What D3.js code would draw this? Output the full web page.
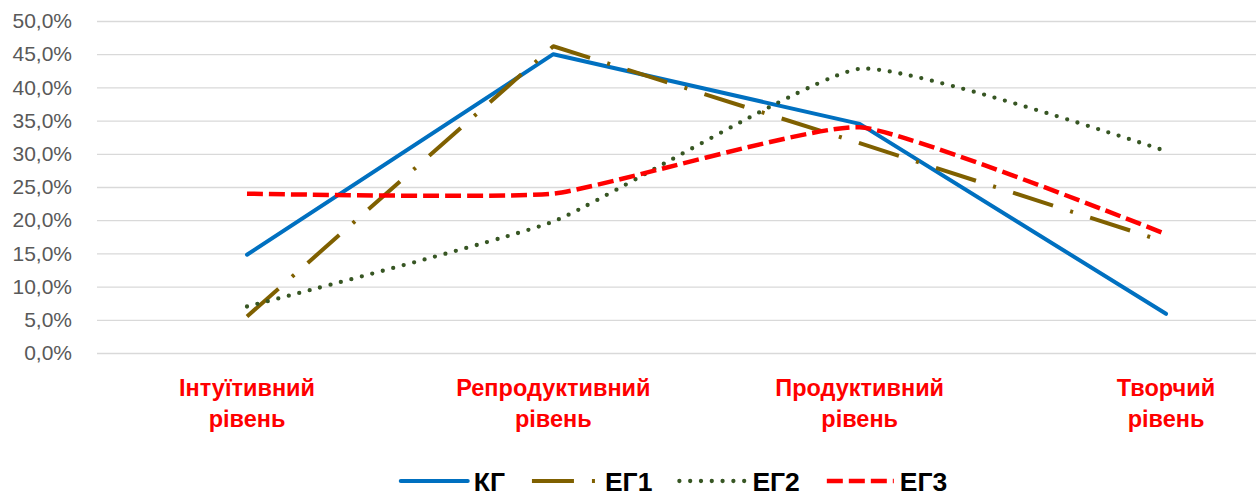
<!doctype html>
<meta charset="utf-8">
<style>
body { margin: 0; background: #fff; }
.tick line { stroke: #d9d9d9; stroke-width: 1.3px; }
.tick text { font-family: "Liberation Sans", Arial, sans-serif; font-size: 21px; fill: #595959; }
.cat { font-family: "Liberation Sans", Arial, sans-serif; font-size: 23.5px; font-weight: bold; fill: #ff0000; }
.leg { font-family: "Liberation Sans", Arial, sans-serif; font-size: 26.5px; font-weight: bold; fill: #000; }
</style>
<html lang="uk">
<body>
<script src="https://d3js.org/d3.v7.min.js"></script>
<script>
// categories and series values (percent)
var categories = ["Інтуїтивний рівень", "Репродуктивний рівень", "Продуктивний рівень", "Творчий рівень"];
var seriesNames = ["КГ", "ЕГ1", "ЕГ2", "ЕГ3"];
var kg  = [14.8, 45.0, 34.5, 5.9];
var eg1 = [5.5, 46.2, 31.6, 16.7];
var eg2 = [7.0, 19.8, 42.8, 30.4];
var eg3 = [24.0, 24.0, 34.0, 17.9];
var yTicks = [0, 5, 10, 15, 20, 25, 30, 35, 40, 45, 50];

var width = 1256, height = 497;
var plotLeft = 97;

var smooth = d3.curveCardinal.tension(0.55);
var styles = [
  {color: "#0070c0", w: 4, dash: null, cap: "round", curve: d3.curveLinear},
  {color: "#7f6000", w: 4, dash: "42,18,3,18", cap: "butt", curve: d3.curveLinear},
  {color: "#375623", w: 4.3, dash: "0,10.8", cap: "round", curve: smooth},
  {color: "#ff0000", w: 4.5, dash: "16,6", cap: "butt", curve: smooth}
];
var allValues = [kg, eg1, eg2, eg3];

var x = d3.scalePoint().domain(categories).range([247, 1166]);
var y = d3.scaleLinear().domain([0, 50]).range([353, 21]);

var uk = d3.formatLocale({decimal: ",", thousands: " ", grouping: [3], currency: ["", ""]});
var fmt = uk.format(".1f");

var svg = d3.select("body").append("svg")
    .attr("width", width)
    .attr("height", height);

// y axis with gridlines
var yAxis = svg.append("g")
    .attr("transform", "translate(" + plotLeft + ",0)")
    .call(d3.axisLeft(y)
      .tickValues(yTicks)
      .tickSize(-(width - plotLeft))
      .tickPadding(25)
      .tickFormat(function(d) { return fmt(d) + "%"; }));
yAxis.select(".domain").remove();

// category labels, two lines each
var cat = svg.append("g").selectAll("text")
    .data(categories)
  .enter().append("text")
    .attr("class", "cat")
    .attr("text-anchor", "middle")
    .attr("x", function(d) { return x(d); })
    .attr("y", 396);
cat.each(function(d) {
  var parts = d.split(" ");
  var t = d3.select(this);
  parts.forEach(function(p, i) {
    t.append("tspan")
      .attr("x", x(d))
      .attr("dy", i === 0 ? 0 : 31)
      .text(p);
  });
});

// series lines
allValues.forEach(function(vals, i) {
  var s = styles[i];
  var line = d3.line()
      .x(function(d, j) { return x(categories[j]); })
      .y(function(d) { return y(d); })
      .curve(s.curve);
  svg.append("path")
      .datum(vals)
      .attr("fill", "none")
      .attr("stroke", s.color)
      .attr("stroke-width", s.w)
      .attr("stroke-dasharray", s.dash)
      .attr("stroke-linecap", s.cap)
      .attr("stroke-linejoin", "round")
      .attr("d", line);
});

// legend
var legY = 481, sampleW = 67, sampleGap = 6, itemGap = 27;
var leg = svg.append("g");
var items = seriesNames.map(function(name, i) {
  var g = leg.append("g");
  var s = styles[i];
  g.append("line")
    .attr("x1", 0).attr("x2", sampleW)
    .attr("y1", legY).attr("y2", legY)
    .attr("stroke", s.color)
    .attr("stroke-width", s.w)
    .attr("stroke-dasharray", s.dash)
    .attr("stroke-linecap", s.cap);
  var t = g.append("text")
    .attr("class", "leg")
    .attr("x", sampleW + sampleGap)
    .attr("y", legY + 9.5)
    .text(name);
  return {g: g, w: sampleW + sampleGap + t.node().getComputedTextLength()};
});
var total = d3.sum(items, function(d) { return d.w; }) + itemGap * (items.length - 1);
var cx = 674 - total / 2;
items.forEach(function(it) {
  it.g.attr("transform", "translate(" + cx + ",0)");
  cx += it.w + itemGap;
});
</script>
</body>
</html>
